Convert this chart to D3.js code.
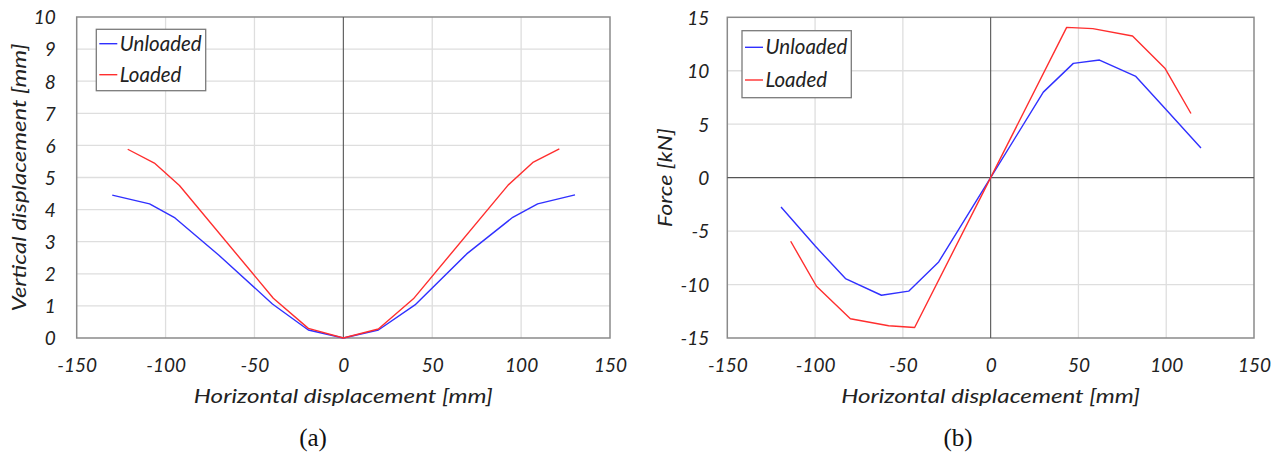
<!DOCTYPE html>
<html>
<head>
<meta charset="utf-8">
<script src="https://cdn.jsdelivr.net/npm/d3@7"></script>
<style>
  html, body { margin: 0; padding: 0; background: #fff; }
  svg { display: block; }
</style>
</head>
<body>
<svg id="chart" width="1280" height="453"></svg>
<script>
// ---------- Data ----------
const seriesNames = ["Unloaded", "Loaded"];
const seriesColors = ["#3030ff", "#ff2e2e"];

// (a) Vertical displacement vs horizontal displacement
const unloadedA_x = [-130, -109, -94.7, -70, -39.9, -19.7, 0, 19.7, 40.3, 69.4, 95.3, 109.3, 130.3];
const unloadedA_y = [4.45, 4.18, 3.74, 2.58, 1.06, 0.25, 0, 0.25, 1.03, 2.62, 3.76, 4.18, 4.46];
const loadedA_x   = [-121.3, -106.3, -92.2, -39.4, -19.7, 0, 19.7, 39.4, 92.8, 106.9, 121.5];
const loadedA_y   = [5.88, 5.45, 4.75, 1.24, 0.30, 0, 0.28, 1.22, 4.77, 5.48, 5.89];

// (b) Force vs horizontal displacement
const unloadedB_x = [-119.4, -99.8, -82.7, -62.2, -46.7, -29.6, 0, 30.0, 47.1, 62.0, 82.7, 100.0, 119.8];
const unloadedB_y = [-2.74, -6.42, -9.44, -11.0, -10.62, -7.88, 0, 8.0, 10.69, 11.0, 9.47, 6.35, 2.78];
const loadedB_x   = [-113.9, -99.2, -79.9, -58.1, -43.3, 0, 43.3, 58.2, 80.8, 99.4, 114.1];
const loadedB_y   = [-5.95, -10.16, -13.2, -13.86, -14.02, 0, 14.06, 13.94, 13.25, 10.2, 6.0];

const xTicks = [-150, -100, -50, 0, 50, 100, 150];
const yTicksA = [0, 1, 2, 3, 4, 5, 6, 7, 8, 9, 10];
const yTicksB = [-15, -10, -5, 0, 5, 10, 15];

const xTitle = "Horizontal displacement [mm]";
const yTitleA = "Vertical displacement [mm]";
const yTitleB = "Force [kN]";
const panelLabels = ["(a)", "(b)"];

// ---------- Drawing ----------
const svg = d3.select("#chart");
const FONT = "Lato, 'Open Sans', sans-serif";

function zip(xs, ys) { return xs.map((x, i) => [x, ys[i]]); }

function drawPanel(cfg) {
  const g = svg.append("g");
  const x = d3.scaleLinear().domain([-150, 150]).range([cfg.left, cfg.right]);
  const y = d3.scaleLinear().domain(cfg.yDomain).range([cfg.bottom, cfg.top]);

  // gridlines
  g.append("g").selectAll("line").data(xTicks.filter(t => t !== -150 && t !== 150 && t !== 0))
    .join("line")
    .attr("x1", d => x(d)).attr("x2", d => x(d))
    .attr("y1", cfg.top).attr("y2", cfg.bottom)
    .attr("stroke", "#dedede").attr("stroke-width", 1.3);
  g.append("g").selectAll("line").data(cfg.yTicks.filter(t => t !== cfg.yDomain[0] && t !== cfg.yDomain[1] && !(cfg.darkZeroY && t === 0)))
    .join("line")
    .attr("x1", cfg.left).attr("x2", cfg.right)
    .attr("y1", d => y(d)).attr("y2", d => y(d))
    .attr("stroke", "#dedede").attr("stroke-width", 1.3);

  // plot border
  g.append("rect")
    .attr("x", cfg.left).attr("y", cfg.top)
    .attr("width", cfg.right - cfg.left).attr("height", cfg.bottom - cfg.top)
    .attr("fill", "none").attr("stroke", "#8a8a8a").attr("stroke-width", 1.5);

  // zero lines
  g.append("line")
    .attr("x1", x(0)).attr("x2", x(0)).attr("y1", cfg.top).attr("y2", cfg.bottom)
    .attr("stroke", "#555").attr("stroke-width", 1.1);
  if (cfg.darkZeroY) {
    g.append("line")
      .attr("x1", cfg.left).attr("x2", cfg.right).attr("y1", y(0)).attr("y2", y(0))
      .attr("stroke", "#555").attr("stroke-width", 1.3);
  }

  // axes (labels only)
  const xAxis = d3.axisBottom(x).tickValues(xTicks).tickSize(0).tickPadding(0).tickFormat(d3.format("d"));
  const xa = g.append("g").attr("transform", `translate(0,${cfg.bottom})`).call(xAxis);
  xa.select(".domain").remove();
  xa.selectAll("text").attr("font-size", 19).attr("fill", "#222").attr("dy", null).attr("y", 34)
    .attr("font-family", FONT).attr("font-style", "italic").text(d => d < 0 ? "-" + Math.abs(d) : d);

  const yAxis = d3.axisLeft(y).tickValues(cfg.yTicks).tickSize(0).tickPadding(0).tickFormat(d3.format("d"));
  const ya = g.append("g").attr("transform", `translate(${cfg.left},0)`).call(yAxis);
  ya.select(".domain").remove();
  ya.selectAll("text").attr("font-size", 19).attr("fill", "#222").attr("x", -cfg.yLabelGap).attr("dy", "0.36em")
    .attr("font-family", FONT).attr("font-style", "italic").text(d => d < 0 ? "-" + Math.abs(d) : d);

  // series lines
  const line = d3.line().x(d => x(d[0])).y(d => y(d[1]));
  cfg.series.forEach((s, i) => {
    g.append("path").datum(s)
      .attr("d", line).attr("fill", "none")
      .attr("stroke", seriesColors[i]).attr("stroke-width", 1.4)
      .attr("stroke-linejoin", "round");
  });

  // axis titles
  g.append("text")
    .attr("x", (cfg.left + cfg.right) / 2).attr("y", 403)
    .attr("text-anchor", "middle").attr("font-family", FONT).attr("font-style", "italic")
    .attr("font-size", 20).attr("fill", "#222")
    .attr("textLength", 299).attr("lengthAdjust", "spacingAndGlyphs")
    .text(xTitle);
  g.append("text")
    .attr("transform", `translate(${cfg.yTitleX},${(cfg.top + cfg.bottom) / 2}) rotate(-90)`)
    .attr("text-anchor", "middle").attr("font-family", FONT).attr("font-style", "italic")
    .attr("font-size", 20).attr("fill", "#222")
    .attr("textLength", cfg.yTitleLen).attr("lengthAdjust", "spacingAndGlyphs")
    .text(cfg.yTitle);

  // legend
  const L = cfg.legend;
  g.append("rect").attr("x", L.x).attr("y", L.y).attr("width", L.w).attr("height", L.h)
    .attr("fill", "#fff").attr("stroke", "#7a7a7a").attr("stroke-width", 1.3);
  seriesNames.forEach((name, i) => {
    const ly = L.lineY[i];
    g.append("line").attr("x1", L.x + 3).attr("x2", L.x + 21).attr("y1", ly).attr("y2", ly)
      .attr("stroke", seriesColors[i]).attr("stroke-width", 1.4);
    g.append("text").attr("x", L.x + 23.5).attr("y", ly + 7)
      .attr("font-family", FONT).attr("font-style", "italic").attr("font-size", 20.5).attr("fill", "#222")
      .text(name);
  });

  // panel label
  g.append("text").attr("x", cfg.labelX).attr("y", 446)
    .attr("text-anchor", "middle").attr("font-family", "'Liberation Serif', 'Times New Roman', serif")
    .attr("font-size", 25).attr("fill", "#111").text(cfg.label);
}

drawPanel({
  left: 76.7, right: 610, top: 17, bottom: 338,
  yDomain: [0, 10], yTicks: yTicksA, darkZeroY: false, yLabelGap: 21,
  series: [zip(unloadedA_x, unloadedA_y), zip(loadedA_x, loadedA_y)],
  yTitle: yTitleA, yTitleX: 26, yTitleLen: 268,
  legend: { x: 96.3, y: 29.3, w: 109.4, h: 61.4, lineY: [43.7, 74.7] },
  label: panelLabels[0], labelX: 313
});

drawPanel({
  left: 727.3, right: 1254, top: 17.3, bottom: 338,
  yDomain: [-15, 15], yTicks: yTicksB, darkZeroY: true, yLabelGap: 18,
  series: [zip(unloadedB_x, unloadedB_y), zip(loadedB_x, loadedB_y)],
  yTitle: yTitleB, yTitleX: 672, yTitleLen: 99,
  legend: { x: 742, y: 30.7, w: 109.3, h: 67, lineY: [47.3, 80] },
  label: panelLabels[1], labelX: 958
});
</script>
</body>
</html>
